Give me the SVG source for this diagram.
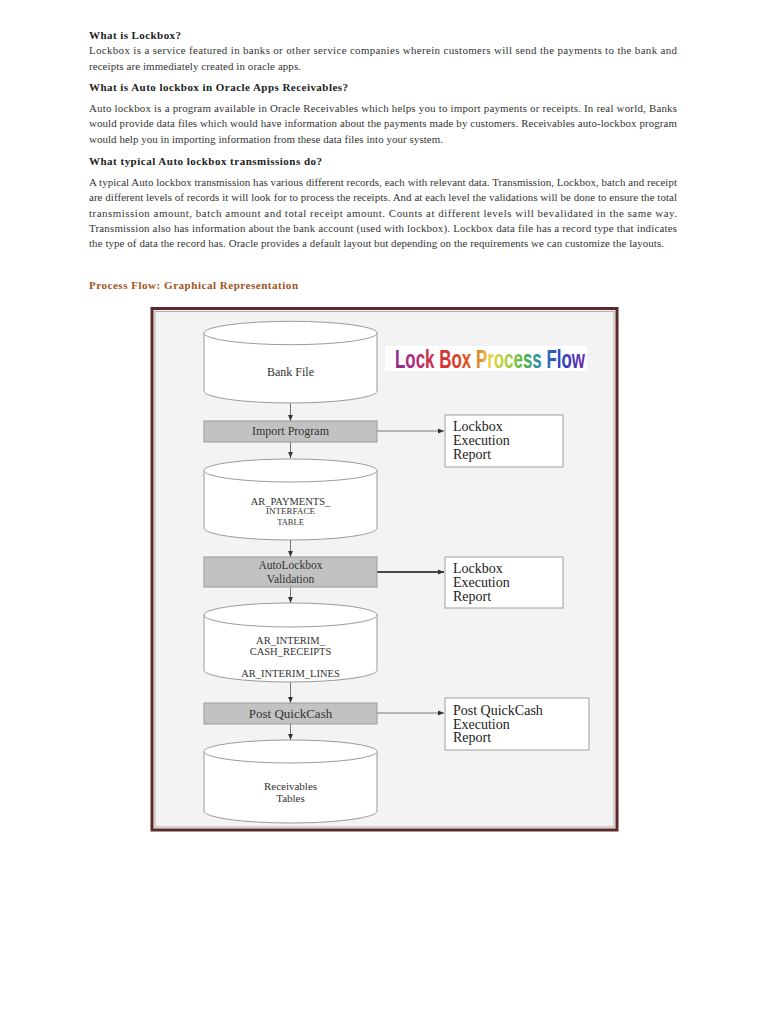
<svg xmlns="http://www.w3.org/2000/svg" width="768" height="1024" viewBox="0 0 768 1024">
<defs>
<style>
.h{font-family:"Liberation Serif","DejaVu Serif",serif;font-weight:bold;font-size:11px;fill:#222}
.b{font-family:"Liberation Serif","DejaVu Serif",serif;font-size:10.9px;fill:#333}
.cyl{fill:#fff;stroke:#9a9a9a;stroke-width:1}
.proc{fill:#c2c2c2;stroke:#9a9a9a;stroke-width:1}
.rep{fill:#fff;stroke:#a0a0a0;stroke-width:1}
.t{font-family:"Liberation Serif","DejaVu Serif",serif;fill:#333;text-anchor:middle}
.r{font-family:"Liberation Serif","DejaVu Serif",serif;font-size:14px;fill:#222}
.c{stroke:#555;stroke-width:0.8;fill:none}
</style>
<linearGradient id="rainbow" gradientUnits="userSpaceOnUse" x1="395" y1="0" x2="585" y2="0">
<stop offset="0" stop-color="#8a2a8c"/>
<stop offset="0.1" stop-color="#b32c80"/>
<stop offset="0.2" stop-color="#cf2f42"/>
<stop offset="0.32" stop-color="#dc3a28"/>
<stop offset="0.42" stop-color="#d86a22"/>
<stop offset="0.5" stop-color="#e6d24a"/>
<stop offset="0.6" stop-color="#a9cc42"/>
<stop offset="0.68" stop-color="#4fb446"/>
<stop offset="0.76" stop-color="#2f8ab0"/>
<stop offset="0.86" stop-color="#2746c2"/>
<stop offset="1" stop-color="#6c2eae"/>
</linearGradient>
<marker id="ah" viewBox="0 0 10 10" refX="10" refY="5" markerWidth="6" markerHeight="6" markerUnits="userSpaceOnUse" orient="auto">
<path d="M0,1 L10,5 L0,9 z" fill="#333"/>
</marker>
</defs>
<rect width="768" height="1024" fill="#fff"/>

<g id="article">
<text class="h" x="89" y="39" textLength="92" lengthAdjust="spacing">What is Lockbox?</text>
<text class="b" x="89" y="54" textLength="588" lengthAdjust="spacing">Lockbox is a service featured in banks or other service companies wherein customers will send the payments to the bank and</text>
<text class="b" x="89" y="69.5" textLength="212" lengthAdjust="spacing">receipts are immediately created in oracle apps.</text>
<text class="h" x="89" y="90.5" textLength="259" lengthAdjust="spacing">What is Auto lockbox in Oracle Apps Receivables?</text>
<text class="b" x="89" y="111.5" textLength="588" lengthAdjust="spacing">Auto lockbox is a program available in Oracle Receivables which helps you to import payments or receipts.  In real world, Banks</text>
<text class="b" x="89" y="127" textLength="588" lengthAdjust="spacing">would provide data files which would have information about the payments made by customers.  Receivables auto-lockbox program</text>
<text class="b" x="89" y="142.5" textLength="354" lengthAdjust="spacing">would help you in importing information from these data files into your system.</text>
<text class="h" x="89" y="164.5" textLength="233" lengthAdjust="spacing">What typical Auto lockbox transmissions do?</text>
<text class="b" x="89" y="185.5" textLength="588" lengthAdjust="spacing">A typical Auto lockbox transmission has various different records, each with relevant data. Transmission, Lockbox, batch and receipt</text>
<text class="b" x="89" y="201" textLength="588" lengthAdjust="spacing">are different levels of records it will look for to process the receipts.  And at each level the validations will be done to ensure the total</text>
<text class="b" x="89" y="216.5" textLength="588" lengthAdjust="spacing">transmission amount, batch amount and total receipt amount. Counts at different levels will bevalidated in the same way.</text>
<text class="b" x="89" y="231.5" textLength="588" lengthAdjust="spacing">Transmission also has information about the bank account (used with lockbox).  Lockbox data file has a record type that indicates</text>
<text class="b" x="89" y="247" textLength="575" lengthAdjust="spacing">the type of data the record has.  Oracle provides a default layout but depending on the requirements we can customize the layouts.</text>
<text class="h" x="89" y="289" textLength="209" lengthAdjust="spacing" style="fill:#a3521c">Process Flow: Graphical Representation</text>
</g>

<g id="frame">
<rect x="152" y="308.5" width="465" height="521.5" fill="#f3f3f3" stroke="#5c2a2a" stroke-width="3"/>
<rect x="155" y="311.5" width="459" height="515.5" fill="none" stroke="#b59a9a" stroke-width="0.8"/>
</g>

<g id="title">
<rect x="385" y="346" width="202" height="25" fill="#fff"/>
<text x="395" y="368" font-family="Liberation Sans, Arial, sans-serif" font-size="25" font-weight="bold" fill="url(#rainbow)" textLength="190" lengthAdjust="spacingAndGlyphs">Lock Box Process Flow</text>
</g>

<g id="connectors">
<line class="c" x1="290.5" y1="403" x2="290.5" y2="421" marker-end="url(#ah)"/>
<line class="c" x1="290.5" y1="442" x2="290.5" y2="458" marker-end="url(#ah)"/>
<line class="c" x1="290.5" y1="540" x2="290.5" y2="557" marker-end="url(#ah)"/>
<line class="c" x1="290.5" y1="587" x2="290.5" y2="603" marker-end="url(#ah)"/>
<line class="c" x1="290.5" y1="682" x2="290.5" y2="703" marker-end="url(#ah)"/>
<line class="c" x1="290.5" y1="724" x2="290.5" y2="740" marker-end="url(#ah)"/>
<line class="c" x1="377" y1="431" x2="444" y2="431" marker-end="url(#ah)"/>
<line class="c" x1="377" y1="572" x2="444" y2="572" marker-end="url(#ah)" style="stroke:#111;stroke-width:1.3"/>
<line class="c" x1="377" y1="713" x2="444" y2="713" marker-end="url(#ah)"/>
</g>

<g id="bank-file">
<path class="cyl" d="M204,333 A86.5,11.7 0 0 1 377,333 L377,391 A86.5,12 0 0 1 204,391 Z"/>
<path class="cyl" d="M204,333 A86.5,11.7 0 0 0 377,333" fill="none"/>
<text class="t" x="290.5" y="376" font-size="12">Bank File</text>
</g>

<g id="import-program">
<rect class="proc" x="204" y="421" width="173" height="21"/>
<text class="t" x="290.5" y="435" font-size="12">Import Program</text>
</g>

<g id="report-1">
<rect class="rep" x="445" y="415" width="118" height="52"/>
<text class="r" x="453" y="431">Lockbox</text>
<text class="r" x="453" y="445">Execution</text>
<text class="r" x="453" y="459">Report</text>
</g>

<g id="ar-payments">
<path class="cyl" d="M204,470.5 A86.5,11.5 0 0 1 377,470.5 L377,528 A86.5,12 0 0 1 204,528 Z"/>
<path class="cyl" d="M204,470.5 A86.5,11.5 0 0 0 377,470.5" fill="none"/>
<text class="t" x="290.5" y="504.5" font-size="10.5">AR_PAYMENTS_</text>
<text class="t" x="290.5" y="514" font-size="9">INTERFACE</text>
<text class="t" x="290.5" y="524.5" font-size="8.5">TABLE</text>
</g>

<g id="autolockbox">
<rect class="proc" x="204" y="557" width="173" height="30"/>
<text class="t" x="290.5" y="569" font-size="11.5">AutoLockbox</text>
<text class="t" x="290.5" y="582.5" font-size="11.5">Validation</text>
</g>

<g id="report-2">
<rect class="rep" x="445" y="557" width="118" height="51"/>
<text class="r" x="453" y="572.5">Lockbox</text>
<text class="r" x="453" y="586.5">Execution</text>
<text class="r" x="453" y="600.5">Report</text>
</g>

<g id="ar-interim">
<path class="cyl" d="M204,615 A86.5,12 0 0 1 377,615 L377,670 A86.5,12 0 0 1 204,670 Z"/>
<path class="cyl" d="M204,615 A86.5,12 0 0 0 377,615" fill="none"/>
<text class="t" x="290.5" y="643.5" font-size="10.5">AR_INTERIM_</text>
<text class="t" x="290.5" y="655" font-size="10.5">CASH_RECEIPTS</text>
<text class="t" x="290.5" y="677" font-size="10.5">AR_INTERIM_LINES</text>
</g>

<g id="post-quickcash">
<rect class="proc" x="204" y="703" width="173" height="21"/>
<text class="t" x="290.5" y="717.5" font-size="13">Post QuickCash</text>
</g>

<g id="report-3">
<rect class="rep" x="445" y="698" width="144" height="52"/>
<text class="r" x="453" y="714.5">Post QuickCash</text>
<text class="r" x="453" y="728.5">Execution</text>
<text class="r" x="453" y="742">Report</text>
</g>

<g id="receivables">
<path class="cyl" d="M204,751.5 A86.5,11.5 0 0 1 377,751.5 L377,811 A86.5,12 0 0 1 204,811 Z"/>
<path class="cyl" d="M204,751.5 A86.5,11.5 0 0 0 377,751.5" fill="none"/>
<text class="t" x="290.5" y="789.5" font-size="11">Receivables</text>
<text class="t" x="290.5" y="801.5" font-size="11">Tables</text>
</g>
</svg>
